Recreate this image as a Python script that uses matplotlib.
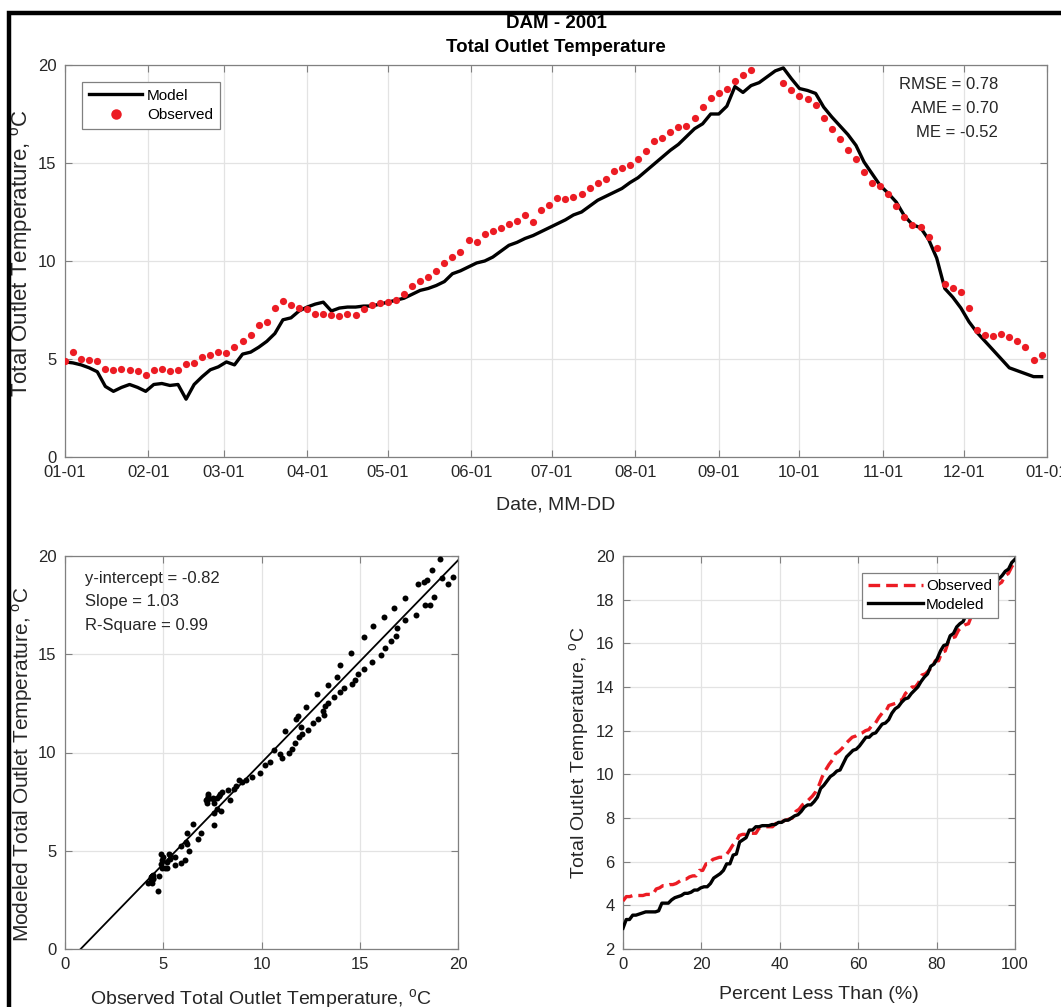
import numpy as np
import pandas as pd
import matplotlib
matplotlib.use("Agg")
import matplotlib.pyplot as plt
import matplotlib.dates as mdates
from matplotlib.patches import Rectangle

plt.rcParams['font.family'] = ['Liberation Sans', 'DejaVu Sans']
plt.rcParams['mathtext.fontset'] = 'custom'
plt.rcParams['mathtext.rm'] = 'Liberation Sans'

# ---- data (every 3rd day of 2001) ----
dates = pd.date_range('2001-01-01', periods=122, freq='3D')

model = [4.85, 4.8, 4.7, 4.55, 4.35, 3.6, 3.35, 3.55, 3.7, 3.55,
         3.35, 3.7, 3.75, 3.65, 3.7, 2.95, 3.7, 4.1, 4.45, 4.6,
         4.85, 4.7, 5.25, 5.35, 5.6, 5.9, 6.3, 7.0, 7.1, 7.45,
         7.65, 7.8, 7.9, 7.45, 7.6, 7.65, 7.65, 7.7, 7.7, 7.8,
         7.9, 8.0, 8.1, 8.3, 8.5, 8.6, 8.75, 8.95, 9.35, 9.5,
         9.7, 9.9, 10.0, 10.2, 10.5, 10.8, 10.95, 11.15, 11.3, 11.5,
         11.7, 11.9, 12.1, 12.35, 12.5, 12.8, 13.1, 13.3, 13.5, 13.7,
         14.0, 14.25, 14.6, 14.95, 15.3, 15.65, 15.95, 16.35, 16.75, 17.0,
         17.5, 17.5, 17.9, 18.9, 18.6, 18.95, 19.1, 19.4, 19.7, 19.85,
         19.3, 18.8, 18.7, 18.55, 17.85, 17.35, 16.9, 16.45, 15.9, 15.05,
         14.45, 13.85, 13.45, 13.0, 12.3, 11.85, 11.7, 11.1, 10.15, 8.6,
         8.15, 7.6, 6.9, 6.35, 5.9, 5.45, 5.0, 4.55, 4.4, 4.25,
         4.1, 4.1]

observed = [4.9, 5.35, 5.0, 4.95, 4.9, 4.5, 4.45, 4.5, 4.45, 4.4,
            4.2, 4.45, 4.5, 4.4, 4.45, 4.75, 4.8, 5.1, 5.2, 5.35,
            5.3, 5.6, 5.9, 6.2, 6.75, 6.9, 7.6, 7.95, 7.75, 7.6,
            7.55, 7.3, 7.3, 7.25, 7.2, 7.3, 7.25, 7.55, 7.75, 7.85,
            7.9, 8.0, 8.3, 8.7, 9.0, 9.2, 9.5, 9.9, 10.2, 10.45,
            11.05, 10.95, 11.4, 11.55, 11.7, 11.9, 12.05, 12.35, 12.0, 12.6,
            12.85, 13.2, 13.15, 13.25, 13.4, 13.7, 14.0, 14.2, 14.6, 14.75,
            14.9, 15.2, 15.6, 16.1, 16.3, 16.6, 16.85, 16.9, 17.3, 17.85,
            18.3, 18.55, 18.8, 19.2, 19.5, 19.75, np.nan, np.nan, np.nan, 19.1,
            18.7, 18.4, 18.25, 17.95, 17.3, 16.75, 16.25, 15.65, 15.2, 14.55,
            14.0, 13.85, 13.4, 12.8, 12.25, 11.85, 11.75, 11.2, 10.65, 8.85,
            8.6, 8.4, 7.6, 6.5, 6.2, 6.15, 6.3, 6.1, 5.9, 5.6,
            4.95, 5.2]

fit_intercept = -0.82
fit_slope = 1.03
stats_lines = ['RMSE = 0.78', 'AME = 0.70', 'ME = -0.52']
fit_lines = ['y-intercept = -0.82', 'Slope = 1.03', 'R-Square = 0.99']

model = np.array(model)
observed = np.array(observed)

RED = '#ec1c24'
AX_COL = '#808080'
TXT = '#262626'
GRID = '#e3e3e3'
degC = r'$^{\mathrm{o}}$C'

fig = plt.figure(figsize=(10.61, 10.07), dpi=100)

# outer black frame (cropped on right/bottom)
fig.patches.append(Rectangle((9 / 1061, -0.2), 1.3, 1 - 13 / 1007 + 0.2,
                             transform=fig.transFigure, fill=False,
                             edgecolor='black', linewidth=3.2))


def style(ax):
    ax.grid(True, color=GRID, linewidth=0.9)
    ax.set_axisbelow(True)
    for s in ax.spines.values():
        s.set_color(AX_COL)
        s.set_linewidth(0.9)
    ax.tick_params(direction='in', top=True, right=True, length=5,
                   color=AX_COL, labelcolor=TXT, labelsize=12, pad=6)


# ---- top: time series ----
ax1 = fig.add_axes([65 / 1061, 1 - 457 / 1007, 982 / 1061, 392 / 1007])
style(ax1)
ax1.plot(dates, model, color='black', lw=2.4, label='Model', zorder=3)
ax1.plot(dates, observed, 'o', color=RED, ms=5.2, mec='none',
         label='Observed', zorder=4)
ax1.set_xlim(pd.Timestamp('2001-01-01'), pd.Timestamp('2002-01-01'))
ax1.set_ylim(0, 20)
ax1.set_yticks([0, 5, 10, 15, 20])
ax1.xaxis.set_major_locator(mdates.MonthLocator())
ax1.xaxis.set_major_formatter(mdates.DateFormatter('%m-%d'))
ax1.set_xlabel('Date, MM-DD', fontsize=14, color=TXT)
ax1.xaxis.set_label_coords(0.5, -0.122)
ax1.xaxis.label.set_va('center')
ax1.set_ylabel('Total Outlet Temperature, ' + degC, fontsize=16, color=TXT)
ax1.yaxis.set_label_coords(-0.044, 0.52)
ax1.yaxis.label.set_va('center')
leg1 = ax1.legend(loc='upper left', bbox_to_anchor=(0.0173, 0.957),
                  borderaxespad=0, fontsize=11, frameon=True, fancybox=False,
                  edgecolor=AX_COL, framealpha=1, handlelength=3.5,
                  handletextpad=0.3, labelspacing=0.35, markerscale=1.45,
                  borderpad=0.45)
leg1.get_frame().set_linewidth(0.9)
for i, s in enumerate(stats_lines):
    ax1.text(0.950, 0.949 - i * 0.06, s, transform=ax1.transAxes,
             ha='right', va='center', fontsize=12, color=TXT)

fig.text(556 / 1061, 1 - 23 / 1007, 'DAM - 2001', ha='center', va='center',
         fontsize=13.5, fontweight='bold', color='black')
fig.text(556 / 1061, 1 - 47 / 1007, 'Total Outlet Temperature',
         ha='center', va='center', fontsize=13.5, fontweight='bold',
         color='black')

# ---- bottom left: modeled vs observed ----
ax2 = fig.add_axes([65 / 1061, 1 - 949 / 1007, 393 / 1061, 393 / 1007])
style(ax2)
ok = ~np.isnan(observed)
ax2.plot(observed[ok], model[ok], 'o', color='black', ms=4.3, mec='none',
         zorder=3)
x0 = -fit_intercept / fit_slope
xs = np.array([x0, 20])
ax2.plot(xs, fit_intercept + fit_slope * xs, color='black', lw=1.3, zorder=2)
ax2.set_xlim(0, 20)
ax2.set_ylim(0, 20)
ax2.set_xticks([0, 5, 10, 15, 20])
ax2.set_yticks([0, 5, 10, 15, 20])
ax2.set_xlabel('Observed Total Outlet Temperature, ' + degC, fontsize=14,
               color=TXT)
ax2.xaxis.set_label_coords(0.5, -0.13)
ax2.xaxis.label.set_va('center')
ax2.set_ylabel('Modeled Total Outlet Temperature, ' + degC, fontsize=15,
               color=TXT)
ax2.yaxis.set_label_coords(-0.109, 0.47)
ax2.yaxis.label.set_va('center')
for i, s in enumerate(fit_lines):
    ax2.text(0.051, 0.944 - i * 0.06, s, transform=ax2.transAxes,
             ha='left', va='center', fontsize=12, color=TXT)

# ---- bottom right: percent less than ----
ax3 = fig.add_axes([623 / 1061, 1 - 949 / 1007, 392 / 1061, 393 / 1007])
style(ax3)
obs_sorted = np.sort(observed[ok])
mod_sorted = np.sort(model)
ax3.plot(np.linspace(0, 100, len(obs_sorted)), obs_sorted, '--', color=RED,
         lw=2.4, dashes=(3.5, 1.8), label='Observed', zorder=3)
ax3.plot(np.linspace(0, 100, len(mod_sorted)), mod_sorted, color='black',
         lw=2.4, label='Modeled', zorder=4)
ax3.set_xlim(0, 100)
ax3.set_ylim(2, 20)
ax3.set_xticks([0, 20, 40, 60, 80, 100])
ax3.set_yticks(list(range(2, 21, 2)))
ax3.set_xlabel('Percent Less Than (%)', fontsize=14, color=TXT)
ax3.xaxis.set_label_coords(0.5, -0.117)
ax3.xaxis.label.set_va('center')
ax3.set_ylabel('Total Outlet Temperature, ' + degC, fontsize=14, color=TXT)
ax3.yaxis.set_label_coords(-0.110, 0.5)
ax3.yaxis.label.set_va('center')
leg3 = ax3.legend(loc='upper right', bbox_to_anchor=(0.957, 0.957),
                  borderaxespad=0, fontsize=11, frameon=True, fancybox=False,
                  edgecolor=AX_COL, framealpha=1, handlelength=3.6,
                  handletextpad=0.2, labelspacing=0.3, borderpad=0.4)
leg3.get_frame().set_linewidth(0.9)

fig.savefig('out.png', dpi=100)
